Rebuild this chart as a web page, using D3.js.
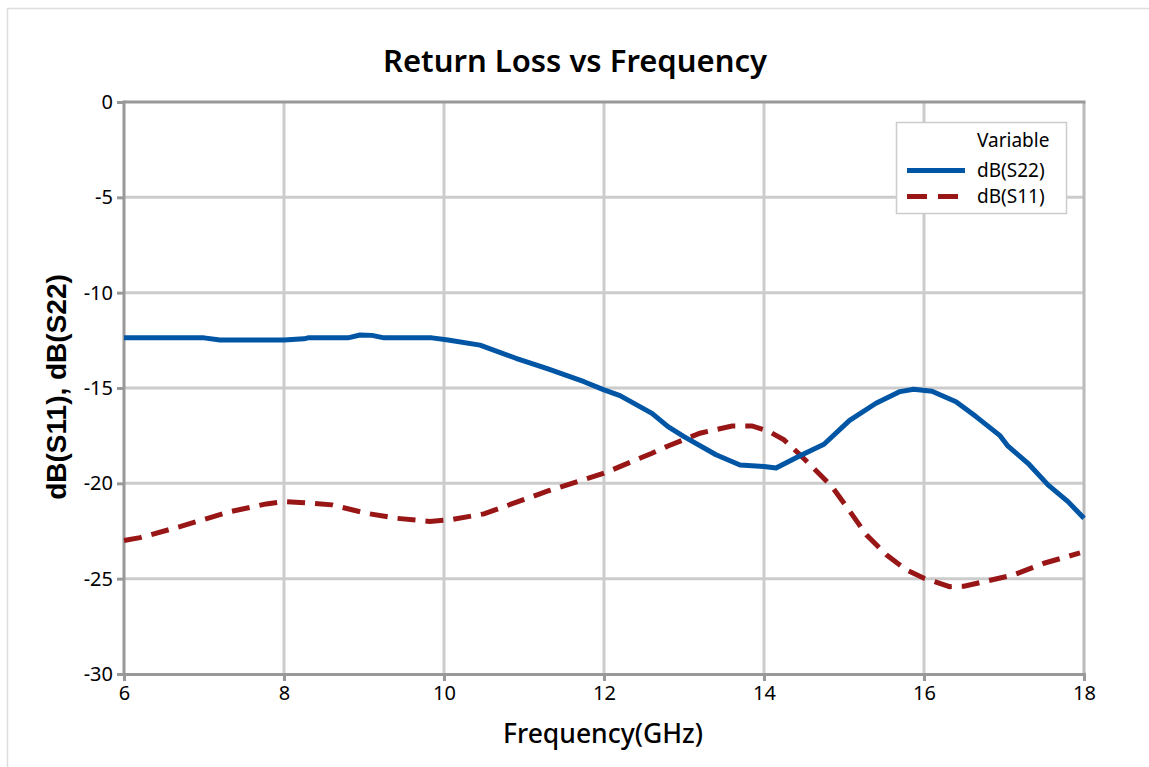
<!DOCTYPE html>
<html>
<head>
<meta charset="utf-8">
<script src="https://cdn.jsdelivr.net/npm/d3@7"></script>
<style>
  body { margin: 0; background: #fff; }
  svg { display: block; }
</style>
</head>
<body>
<div id="chart"></div>
<script>
// values
var s22Freq = [6.0, 6.5, 7.0, 7.2, 7.6, 8.0, 8.25, 8.3, 8.8, 8.95, 9.1, 9.25, 9.85, 10.05, 10.45, 10.9, 11.3, 11.75, 12.0, 12.2, 12.6, 12.8, 13.0, 13.4, 13.7, 14.0, 14.15, 14.45, 14.75, 15.07, 15.4, 15.7, 15.87, 16.1, 16.4, 16.65, 16.95, 17.05, 17.3, 17.55, 17.8, 18.0];
var s22Db = [-12.37, -12.37, -12.37, -12.48, -12.48, -12.48, -12.42, -12.37, -12.37, -12.22, -12.24, -12.37, -12.37, -12.48, -12.75, -13.44, -14.0, -14.67, -15.1, -15.4, -16.33, -17.03, -17.55, -18.5, -19.04, -19.12, -19.2, -18.55, -17.95, -16.7, -15.8, -15.19, -15.07, -15.17, -15.72, -16.5, -17.5, -18.05, -18.95, -20.08, -20.96, -21.83];

var s11Freq = [6.0, 6.2, 6.7, 7.33, 7.78, 8.0, 8.2, 8.6, 9.03, 9.4, 9.82, 10.1, 10.5, 11.3, 12.0, 12.6, 12.8, 13.2, 13.6, 13.85, 14.05, 14.25, 14.45, 14.85, 15.07, 15.28, 15.53, 15.78, 16.0, 16.32, 16.5, 16.75, 17.12, 17.5, 17.95];
var s11Db = [-23.0, -22.85, -22.27, -21.48, -21.08, -20.96, -21.0, -21.13, -21.57, -21.83, -22.0, -21.9, -21.6, -20.4, -19.47, -18.42, -18.04, -17.37, -16.99, -16.99, -17.25, -17.72, -18.5, -20.17, -21.45, -22.7, -23.75, -24.54, -24.98, -25.42, -25.4, -25.16, -24.8, -24.19, -23.65];

var xTicks = [6, 8, 10, 12, 14, 16, 18];
var yTicks = [0, -5, -10, -15, -20, -25, -30];
var seriesNames = ["dB(S22)", "dB(S11)"];

var W = 1149, H = 767;
var pLeft = 124, pRight = 1084, pTop = 102, pBottom = 674;
var sansFont = "'Noto Sans', 'Open Sans', sans-serif";

var svg = d3.select("#chart").append("svg")
    .attr("width", W)
    .attr("height", H);

// outer frame
svg.append("rect")
    .attr("x", 7.5).attr("y", 8.5)
    .attr("width", W).attr("height", H)
    .attr("fill", "none")
    .attr("stroke", "#dddddd")
    .attr("stroke-width", 1.5);

var x = d3.scaleLinear().domain([6, 18]).range([pLeft, pRight]);
var y = d3.scaleLinear().domain([-30, 0]).range([pBottom, pTop]);

// grid
svg.append("g").selectAll("line")
    .data(xTicks.slice(1, -1))
    .enter().append("line")
    .attr("x1", function(d) { return x(d); })
    .attr("x2", function(d) { return x(d); })
    .attr("y1", pTop).attr("y2", pBottom)
    .attr("stroke", "#cccccc").attr("stroke-width", 3);

svg.append("g").selectAll("line")
    .data(yTicks.slice(1, -1))
    .enter().append("line")
    .attr("y1", function(d) { return y(d); })
    .attr("y2", function(d) { return y(d); })
    .attr("x1", pLeft).attr("x2", pRight)
    .attr("stroke", "#cccccc").attr("stroke-width", 3);

// right and top edges of the box
svg.append("line")
    .attr("x1", pRight).attr("x2", pRight)
    .attr("y1", pTop).attr("y2", pBottom)
    .attr("stroke", "#bbbbbb").attr("stroke-width", 3);
svg.append("line")
    .attr("x1", pLeft).attr("x2", pRight + 1.5)
    .attr("y1", pTop).attr("y2", pTop)
    .attr("stroke", "#999999").attr("stroke-width", 3);

// axes (plain hyphen for negatives, like the original)
var xAxis = d3.axisBottom(x).tickValues(xTicks).tickFormat(String).tickSize(7).tickPadding(5);
var yAxis = d3.axisLeft(y).tickValues(yTicks).tickFormat(String).tickSize(7).tickPadding(4);

var gx = svg.append("g")
    .attr("transform", "translate(0," + pBottom + ")")
    .call(xAxis);
var gy = svg.append("g")
    .attr("transform", "translate(" + pLeft + ",0)")
    .call(yAxis);

[gx, gy].forEach(function(g) {
    g.select(".domain").attr("stroke", "#999999").attr("stroke-width", 3);
    g.selectAll(".tick line").attr("stroke", "#999999").attr("stroke-width", 3);
    g.selectAll(".tick text")
        .attr("fill", "#000")
        .style("font-family", sansFont)
        .style("font-size", "20px");
});
gy.select(".domain").attr("d", "M0," + (pTop - 1.5) + "V" + (pBottom + 1.5));

// lines
var line = d3.line()
    .x(function(d) { return x(d[0]); })
    .y(function(d) { return y(d[1]); });

var s22 = d3.zip(s22Freq, s22Db);
var s11 = d3.zip(s11Freq, s11Db);

svg.append("path")
    .datum(s11)
    .attr("d", line)
    .attr("fill", "none")
    .attr("stroke", "#981616")
    .attr("stroke-width", 5)
    .attr("stroke-dasharray", "18,10");

svg.append("path")
    .datum(s22)
    .attr("d", line)
    .attr("fill", "none")
    .attr("stroke", "#0155a5")
    .attr("stroke-width", 5)
    .attr("stroke-linejoin", "round");

// title & labels
svg.append("text")
    .attr("x", 575).attr("y", 72)
    .attr("text-anchor", "middle")
    .style("font-family", sansFont)
    .style("font-size", "31px")
    .style("font-weight", 600)
    .text("Return Loss vs Frequency");

svg.append("text")
    .attr("x", 603).attr("y", 743)
    .attr("text-anchor", "middle")
    .style("font-family", sansFont)
    .style("font-size", "26.5px")
    .style("font-weight", 500)
    .text("Frequency(GHz)");

svg.append("text")
    .attr("transform", "translate(66,387) rotate(-90)")
    .attr("text-anchor", "middle")
    .style("font-family", "'Liberation Sans', Arial, sans-serif")
    .style("font-size", "28px")
    .style("font-weight", "bold")
    .text("dB(S11), dB(S22)");

// legend
var lg = svg.append("g");
lg.append("rect")
    .attr("x", 896.5).attr("y", 122.5)
    .attr("width", 170).attr("height", 91)
    .attr("fill", "#fff")
    .attr("stroke", "#cccccc")
    .attr("stroke-width", 1.5);
lg.append("text")
    .attr("x", 977).attr("y", 147)
    .style("font-family", sansFont)
    .style("font-size", "19px")
    .text("Variable");

var legendColors = ["#0155a5", "#981616"];
var legendDash = [null, "20,11"];
seriesNames.forEach(function(name, i) {
    var ly = 170.5 + i * 26;
    lg.append("line")
        .attr("x1", 907).attr("x2", 965)
        .attr("y1", ly).attr("y2", ly)
        .attr("stroke", legendColors[i])
        .attr("stroke-width", 5)
        .attr("stroke-dasharray", legendDash[i]);
    lg.append("text")
        .attr("x", 977).attr("y", ly + 6.5)
        .style("font-family", sansFont)
        .style("font-size", "19px")
        .text(name);
});
</script>
</body>
</html>
